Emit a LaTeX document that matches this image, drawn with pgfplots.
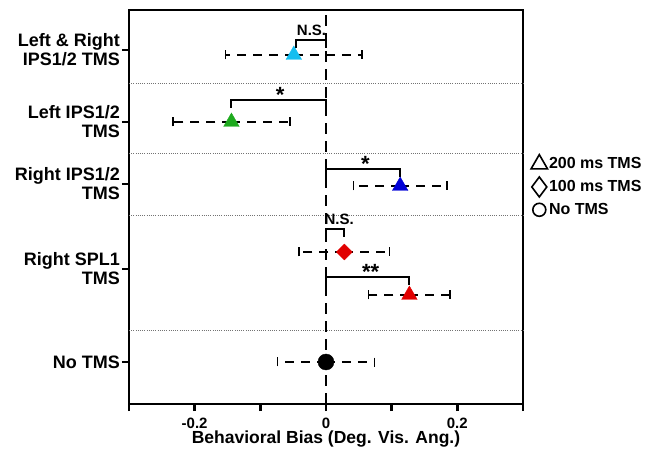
\documentclass[border=0pt]{standalone}
\usepackage{pgfplots}
\pgfplotsset{compat=1.18}
\usepackage{fontspec}
\setmainfont{Liberation Sans}
\definecolor{cLR}{RGB}{20,190,240}
\definecolor{cL}{RGB}{30,170,30}
\definecolor{cR}{RGB}{0,0,215}
\definecolor{cS}{RGB}{225,0,0}
\begin{document}
\begin{tikzpicture}
\begin{axis}[
  name=ax,
  scale only axis, width=394pt, height=394pt,
  xmin=-0.3, xmax=0.3, ymin=0, ymax=394,
  axis line style={line width=2.6pt},
  xtick={-0.3,-0.2,-0.1,0,0.1,0.2,0.3},
  xticklabels={,-0.2,,0,,0.2,},
  ytick={42,135,220,282,354},
  yticklabels={{No TMS},{Right SPL1\\TMS},{Right IPS1/2\\TMS},{Left IPS1/2\\TMS},{Left \& Right\\IPS1/2 TMS}},
  tick align=outside, tick pos=left,
  major tick length=7pt,
  tick style={line width=2.6pt, black},
  yticklabel style={align=right, font=\fontsize{18}{19}\selectfont\bfseries, inner sep=2pt},
  xticklabel style={font=\fontsize{15}{16}\selectfont\bfseries, yshift=-3pt},
  xlabel={Behavioral Bias (Deg. Vis. Ang.)},
  xlabel style={font=\fontsize{17.5}{19}\selectfont\bfseries, yshift=4pt},
  clip=false,
  legend style={at={(1.02,0.553)}, anchor=west, draw=none, fill=none,
    font=\fontsize{16}{18}\selectfont\bfseries, row sep=5pt, inner sep=0pt,
    nodes={inner sep=1.5pt}},
  legend cell align=left,
]
\addlegendimage{only marks, mark=triangle, mark size=9.5pt, black, line width=1.6pt}
\addlegendentry{200 ms TMS}
\addlegendimage{only marks, mark=diamond, mark size=10pt, black, line width=1.6pt}
\addlegendentry{100 ms TMS}
\addlegendimage{only marks, mark=o, mark size=6.5pt, black, line width=1.6pt}
\addlegendentry{No TMS}

% separators
\addplot[forget plot, gray!90!black, line width=1pt, dash pattern=on 1pt off 1.2pt] coordinates {(-0.3,320) (0.3,320)};
\addplot[forget plot, gray!90!black, line width=1pt, dash pattern=on 1pt off 1.2pt] coordinates {(-0.3,250) (0.3,250)};
\addplot[forget plot, gray!90!black, line width=1pt, dash pattern=on 1pt off 1.2pt] coordinates {(-0.3,188) (0.3,188)};
\addplot[forget plot, gray!90!black, line width=1pt, dash pattern=on 1pt off 1.2pt] coordinates {(-0.3,73) (0.3,73)};
% zero line
\addplot[forget plot, black, line width=1.7pt, dash pattern=on 11pt off 7pt] coordinates {(0,0) (0,394)};

% brackets
\addplot[forget plot, black, line width=2pt] coordinates {(-0.046,356) (-0.046,364) (0,364) (0,356)};
\addplot[forget plot, black, line width=2pt] coordinates {(-0.144,296) (-0.144,304) (0,304) (0,296)};
\addplot[forget plot, black, line width=2pt] coordinates {(0,227) (0,235) (0.113,235) (0.113,227)};
\addplot[forget plot, black, line width=2pt] coordinates {(0,167) (0,175) (0.028,175) (0.028,167)};
\addplot[forget plot, black, line width=2pt] coordinates {(0,119) (0,127) (0.127,127) (0.127,119)};
\node[font=\fontsize{15}{16}\selectfont\bfseries] at (axis cs:-0.022,374) {N.S.};
\node[font=\fontsize{22}{22}\selectfont\bfseries] at (axis cs:-0.070,309) {*};
\node[font=\fontsize{22}{22}\selectfont\bfseries] at (axis cs:0.060,240) {*};
\node[font=\fontsize{15}{16}\selectfont\bfseries] at (axis cs:0.020,185) {N.S.};
\node[font=\fontsize{22}{22}\selectfont\bfseries] at (axis cs:0.068,132) {**};

% data with error bars
\pgfplotsset{ebar/.style={forget plot, only marks,
  error bars/x dir=both, error bars/x explicit,
  error bars/error bar style={black, line width=1.5pt, dash pattern=on 9pt off 7pt},
  error bars/error mark options={black, line width=1.5pt, rotate=90, mark size=4.5pt, solid}}}
\addplot[ebar, mark=triangle*, mark size=9pt, mark options={cLR, fill=cLR}]
  coordinates {(-0.049,349) +- (0.104,0)};
\addplot[ebar, mark=triangle*, mark size=9pt, mark options={cL, fill=cL}]
  coordinates {(-0.144,282) +- (0.089,0)};
\addplot[ebar, mark=triangle*, mark size=9pt, mark options={cR, fill=cR}]
  coordinates {(0.113,218) +- (0.071,0)};
\addplot[ebar, mark=square*, mark size=5.6pt, mark options={cS, fill=cS, rotate=45}]
  coordinates {(0.028,152) +- (0.069,0)};
\addplot[ebar, mark=triangle*, mark size=9pt, mark options={cS, fill=cS}]
  coordinates {(0.127,109) +- (0.062,0)};
\addplot[ebar, mark=*, mark size=8pt, mark options={black, fill=black}]
  coordinates {(0,42) +- (0.074,0)};
\end{axis}
\pgfresetboundingbox
\path[use as bounding box] ([xshift=-129pt,yshift=-46pt]ax.south west) rectangle ([xshift=136pt,yshift=10pt]ax.north east);
\end{tikzpicture}
\end{document}
